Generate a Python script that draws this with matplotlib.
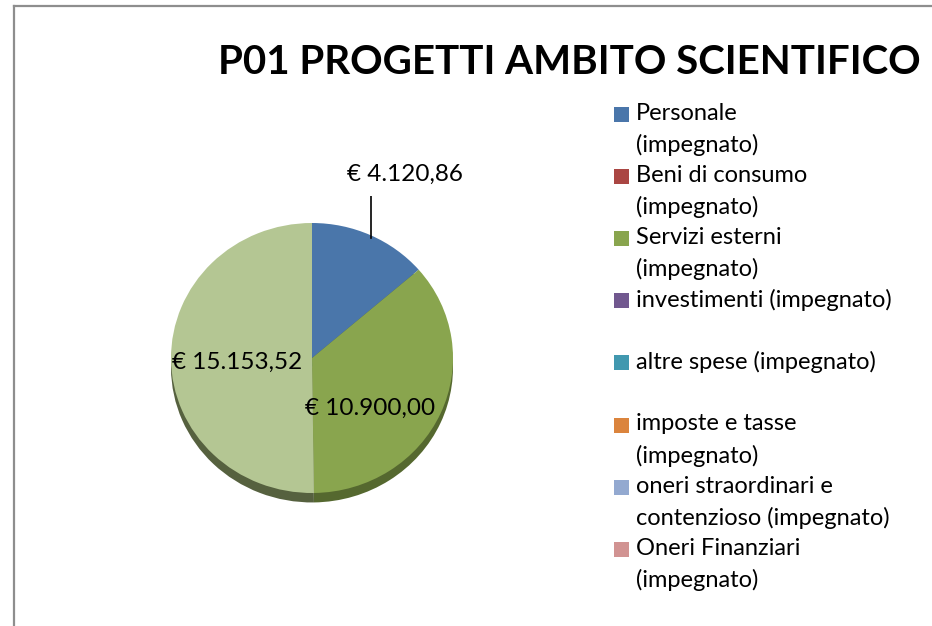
import matplotlib
matplotlib.use("Agg")
import matplotlib.pyplot as plt
from matplotlib.lines import Line2D
from matplotlib.patches import Rectangle
import numpy as np

plt.rcParams["font.family"] = ["Lato", "DejaVu Sans"]

TITLE = "P01 PROGETTI AMBITO SCIENTIFICO"

categories = [
    "Personale\n(impegnato)",
    "Beni di consumo\n(impegnato)",
    "Servizi esterni\n(impegnato)",
    "investimenti (impegnato)",
    "altre spese (impegnato)",
    "imposte e tasse\n(impegnato)",
    "oneri straordinari e\ncontenzioso (impegnato)",
    "Oneri Finanziari\n(impegnato)",
    "Disponibile",
]
values = [4120.86, 0, 10900.00, 0, 0, 0, 0, 0, 15153.52]
value_labels = ["€ 4.120,86", "", "€ 10.900,00", "", "", "", "", "", "€ 15.153,52"]
colors = ["#4A76AA", "#AA4643", "#89A54E", "#71588F", "#4198AF",
          "#DB843D", "#93A9D0", "#D19392", "#B4C693"]
side_colors = ["#2F4C70", "#6E2D2B", "#55682F", "#4A3A5E", "#2A6373",
               "#8F5627", "#5F6E88", "#8A605F", "#56613F"]
legend_count = 8

W, H = 932, 626
fig = plt.figure(figsize=(W / 100, H / 100), dpi=100)

# chart frame (only left and top edges visible in the crop)
fig.add_artist(Line2D([14 / W, 14 / W], [0, 1 - 6 / H], color="#8e8e8e", lw=1.6,
                      transform=fig.transFigure))
fig.add_artist(Line2D([14 / W, 1], [1 - 6 / H, 1 - 6 / H], color="#8e8e8e", lw=1.6,
                      transform=fig.transFigure))

fig.text(218 / W, 1 - 62 / H, TITLE, ha="left", va="center",
         fontsize=29, fontweight="bold", color="black")

# pie axes: centre (312, 358) px, rx 141, ry 135
cx, cy, rx, ry = 312, 358, 141, 135
span = 1.2
ax = fig.add_axes([(cx - span * rx) / W, (H - cy - span * ry) / H,
                   2 * span * rx / W, 2 * span * ry / H])

# 3d side
ax.pie(values, colors=side_colors, startangle=90, counterclock=False,
       center=(0, -0.07), radius=1.0, frame=True,
       wedgeprops={"linewidth": 0})
wedges, _ = ax.pie(values, colors=colors, startangle=90, counterclock=False,
                   radius=1.0, frame=True, wedgeprops={"linewidth": 0})
ax.set_xlim(-span, span)
ax.set_ylim(-span, span)
ax.set_aspect("auto")
ax.axis("off")

# data labels
w0 = wedges[0]
mid = np.deg2rad((w0.theta1 + w0.theta2) / 2)
ex, ey = np.cos(mid), np.sin(mid)
ax.plot([ex, ex], [ey - 0.02, 1.22], color="black", lw=1.2)
ax.text(ex + 0.24, 1.36, value_labels[0], ha="center", va="center", fontsize=17.5)
ax.text(0.41, -0.37, value_labels[2], ha="center", va="center", fontsize=17.5)
ax.text(-0.53, -0.03, value_labels[8], ha="center", va="center", fontsize=17.5)

# legend: equal slots of two lines each
for i in range(legend_count):
    ytop = 115 + 62.1 * i
    fig.add_artist(Rectangle((614 / W, 1 - (ytop + 7) / H), 15 / W, 15 / H,
                             facecolor=colors[i], edgecolor="none",
                             transform=fig.transFigure))
    fig.text(636 / W, 1 - (ytop - 12) / H, categories[i], ha="left", va="top",
             fontsize=17, linespacing=1.55)

fig.savefig("out.png", dpi=100)
